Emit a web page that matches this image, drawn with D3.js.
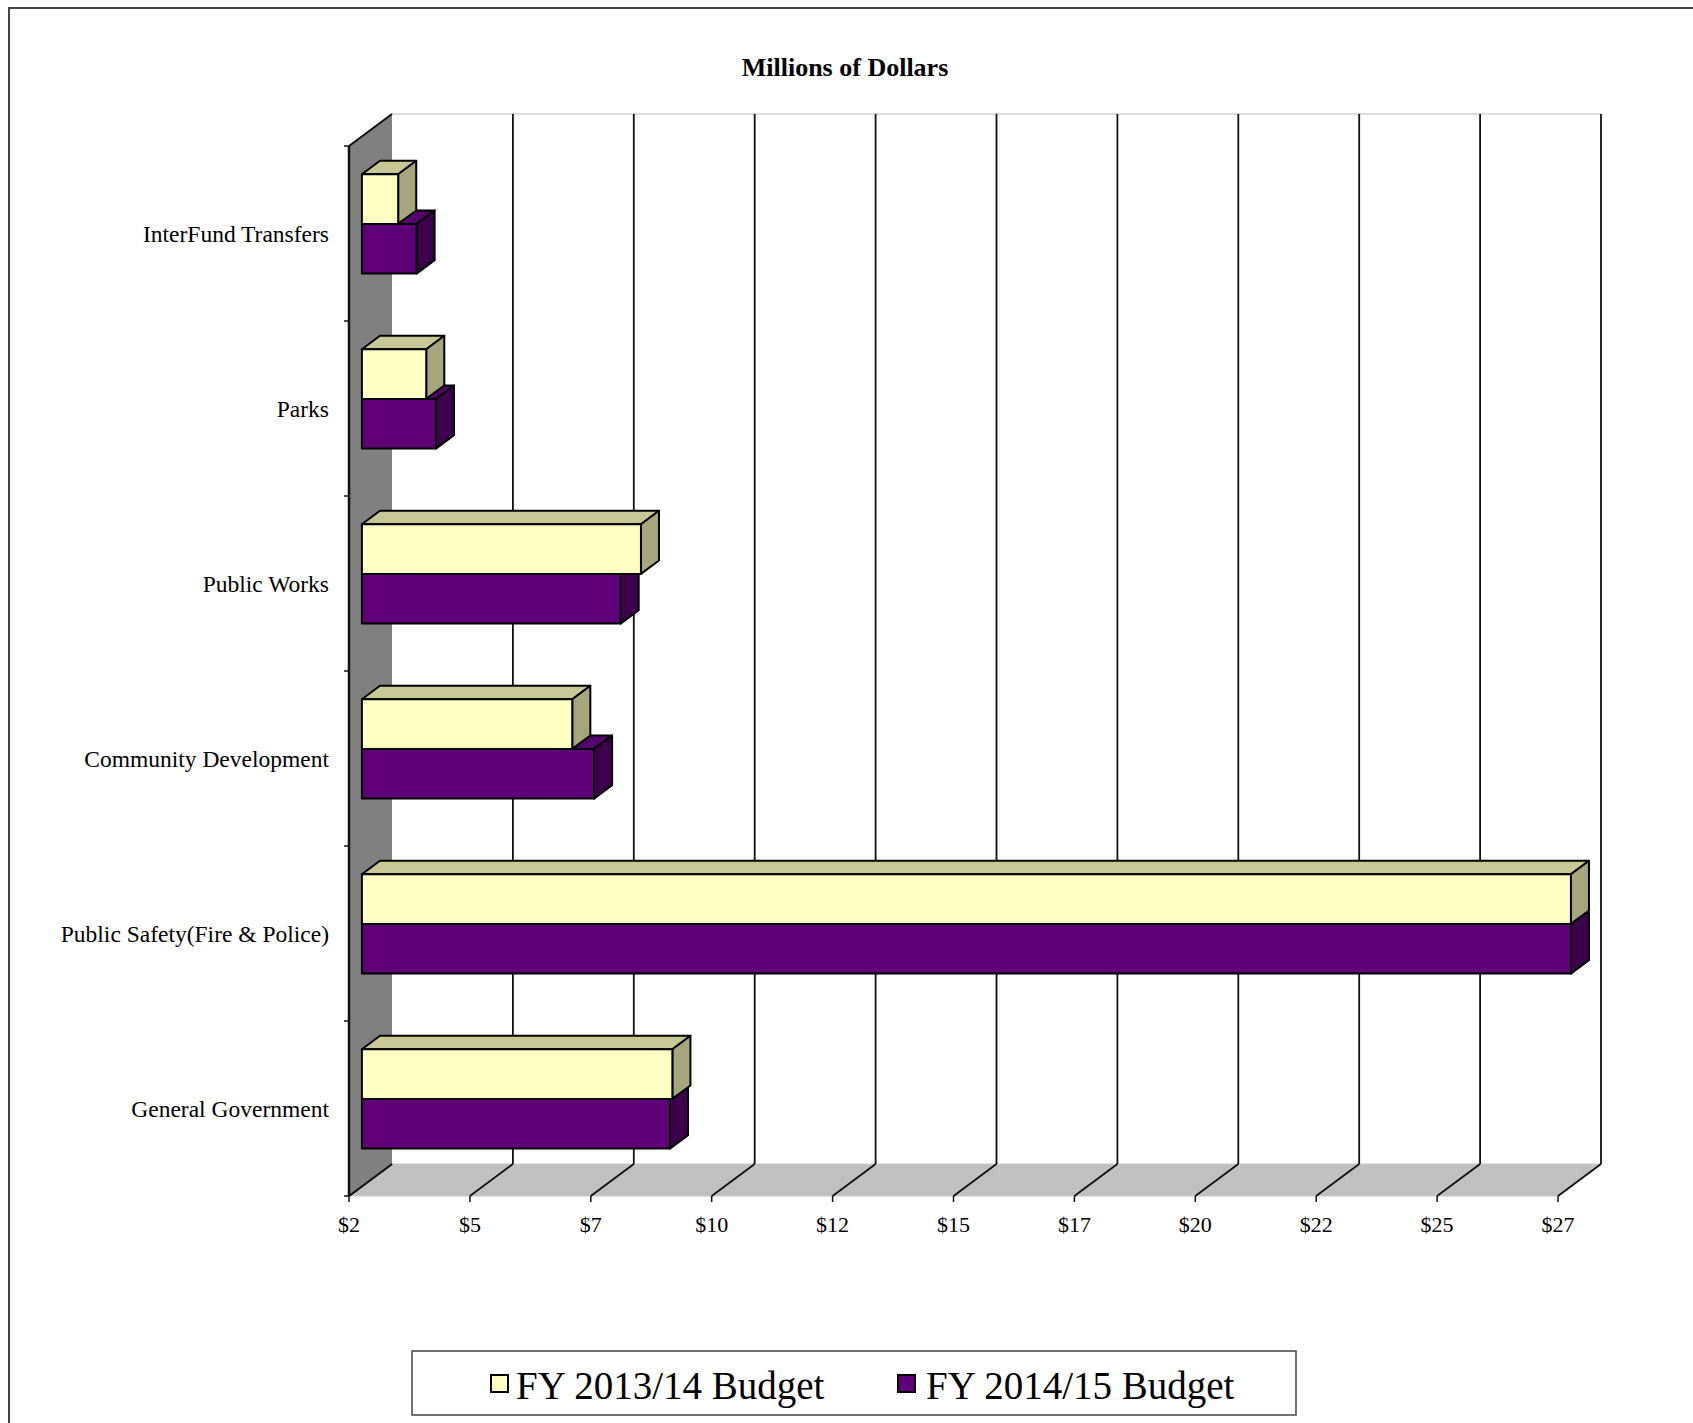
<!DOCTYPE html>
<html>
<head>
<meta charset="utf-8">
<script src="https://cdn.jsdelivr.net/npm/d3@7"></script>
<style>
  html, body { margin: 0; padding: 0; background: #fff; }
  svg { display: block; }
  text { font-family: "Liberation Serif", "Times New Roman", serif; fill: #000; }
</style>
</head>
<body>
<svg id="chart" width="1693" height="1423"></svg>
<script>
// ---- data ----
const categories = ["General Government", "Public Safety(Fire & Police)", "Community Development", "Public Works", "Parks", "InterFund Transfers"];
const fy1314 = [8.92, 27.5, 6.85, 8.27, 3.83, 3.25];
const fy1415 = [8.87, 27.5, 7.30, 7.85, 4.03, 3.63];
const seriesNames = ["FY 2013/14 Budget", "FY 2014/15 Budget"];
const tickValues = [2.5, 5, 7.5, 10, 12.5, 15, 17.5, 20, 22.5, 25, 27.5];
const tickLabels = ["$2", "$5", "$7", "$10", "$12", "$15", "$17", "$20", "$22", "$25", "$27"];
const title = "Millions of Dollars";

// ---- styles ----
const colors = {
  s0: { front: "#ffffc4", top: "#c8c897", side: "#a6a67c" },
  s1: { front: "#5f0078", top: "#560070", side: "#3c004c" }
};

const svg = d3.select("#chart");

// outer border
svg.append("rect").attr("x", 9).attr("y", 8).attr("width", 1720).attr("height", 1450)
  .attr("fill", "none").attr("stroke", "#444").attr("stroke-width", 2);

// geometry
const DX = 43, DY = 32;           // depth offset
const Z0 = 0.3, Z1 = 0.72;        // bar depth range
const x = d3.scaleLinear().domain([2.5, 27.5]).range([349, 1558]);
const y = d3.scaleBand().domain(categories.slice().reverse()).range([146, 1196]).paddingInner(0).paddingOuter(0);
const ySub = d3.scaleBand().domain(seriesNames).range([0, y.bandwidth()]).paddingInner(0).paddingOuter(0.76);

const x0 = x.range()[0], x1 = x.range()[1];
const yTop = y.range()[0], yBot = y.range()[1];

const g = svg.append("g");

// back wall top edge
g.append("line").attr("x1", x0 + DX).attr("y1", yTop - DY).attr("x2", x1 + DX).attr("y2", yTop - DY)
  .attr("stroke", "#cfcfcf").attr("stroke-width", 1.5);

// floor
g.append("polygon")
  .attr("points", [[x0, yBot], [x1, yBot], [x1 + DX, yBot - DY], [x0 + DX, yBot - DY]].map(p => p.join(",")).join(" "))
  .attr("fill", "#c0c0c0").attr("stroke", "#c8c8c8").attr("stroke-width", 1);

// back wall gridlines + floor lines
tickValues.forEach((t, i) => {
  const xv = x(t);
  if (i > 0) {
    g.append("line").attr("x1", xv + DX).attr("y1", yTop - DY).attr("x2", xv + DX).attr("y2", yBot - DY)
      .attr("stroke", "#111").attr("stroke-width", 1.8);
  }
  g.append("line").attr("x1", xv).attr("y1", yBot).attr("x2", xv + DX).attr("y2", yBot - DY)
    .attr("stroke", "#111").attr("stroke-width", 1.8);
  // tick below
  g.append("line").attr("x1", xv).attr("y1", yBot).attr("x2", xv).attr("y2", yBot + 6)
    .attr("stroke", "#111").attr("stroke-width", 1.5);
});

// left wall
g.append("polygon")
  .attr("points", [[x0, yTop], [x0 + DX, yTop - DY], [x0 + DX, yBot - DY], [x0, yBot]].map(p => p.join(",")).join(" "))
  .attr("fill", "#808080").attr("stroke", "none");
g.append("line").attr("x1", x0).attr("y1", yTop).attr("x2", x0 + DX).attr("y2", yTop - DY)
  .attr("stroke", "#111").attr("stroke-width", 2);
g.append("line").attr("x1", x0).attr("y1", yBot).attr("x2", x0 + DX).attr("y2", yBot - DY)
  .attr("stroke", "#111").attr("stroke-width", 1.8);
g.append("line").attr("x1", x0).attr("y1", yTop).attr("x2", x0).attr("y2", yBot)
  .attr("stroke", "#111").attr("stroke-width", 2.5);

// category ticks
const bounds = y.domain().map(c => y(c)).concat([yBot]);
bounds.forEach(b => {
  g.append("line").attr("x1", x0 - 5).attr("y1", b).attr("x2", x0).attr("y2", b)
    .attr("stroke", "#111").attr("stroke-width", 1.5);
});

// bars
function drawBar(v, yb, h, col) {
  const bx0 = x(2.5), bx1 = x(v);
  const fx = Z0 * DX, fy = -Z0 * DY, kx = Z1 * DX, ky = -Z1 * DY;
  const pts = a => a.map(p => p.join(",")).join(" ");
  const bg = g.append("g").attr("stroke", "#000").attr("stroke-width", 2).attr("stroke-linejoin", "round");
  bg.append("polygon").attr("fill", col.top)
    .attr("points", pts([[bx0 + fx, yb + fy], [bx0 + kx, yb + ky], [bx1 + kx, yb + ky], [bx1 + fx, yb + fy]]));
  bg.append("polygon").attr("fill", col.side)
    .attr("points", pts([[bx1 + fx, yb + fy], [bx1 + kx, yb + ky], [bx1 + kx, yb + h + ky], [bx1 + fx, yb + h + fy]]));
  bg.append("rect").attr("fill", col.front)
    .attr("x", bx0 + fx).attr("y", yb + fy).attr("width", bx1 - bx0).attr("height", h);
}

const order = categories.map((c, i) => i).reverse(); // top category first
order.forEach(i => {
  const c = categories[i];
  const band = y(c);
  // purple (second series) first, then yellow on top
  drawBar(fy1415[i], band + ySub(seriesNames[1]), ySub.bandwidth(), colors.s1);
  drawBar(fy1314[i], band + ySub(seriesNames[0]), ySub.bandwidth(), colors.s0);
});

// category labels
categories.forEach(c => {
  svg.append("text").attr("x", 329).attr("y", y(c) + y.bandwidth() / 2)
    .attr("text-anchor", "end").attr("dominant-baseline", "central")
    .style("font-size", "23.5px").text(c);
});

// tick labels
tickValues.forEach((t, i) => {
  svg.append("text").attr("x", x(t)).attr("y", 1224)
    .attr("text-anchor", "middle").attr("dominant-baseline", "central")
    .style("font-size", "22px").text(tickLabels[i]);
});

// title
svg.append("text").attr("x", 845).attr("y", 67).attr("text-anchor", "middle")
  .attr("dominant-baseline", "central").style("font-size", "26px").style("font-weight", "bold").text(title);

// legend
svg.append("rect").attr("x", 412).attr("y", 1351).attr("width", 884).attr("height", 64)
  .attr("fill", "#fff").attr("stroke", "#444").attr("stroke-width", 1.5);
const legendItems = [
  { sx: 491, tx: 516, col: colors.s0.front, name: seriesNames[0] },
  { sx: 898, tx: 926, col: colors.s1.front, name: seriesNames[1] }
];
legendItems.forEach(d => {
  svg.append("rect").attr("x", d.sx).attr("y", 1375).attr("width", 17).attr("height", 17)
    .attr("fill", d.col).attr("stroke", "#000").attr("stroke-width", 2);
  svg.append("text").attr("x", d.tx).attr("y", 1385).attr("dominant-baseline", "central")
    .style("font-size", "39px").text(d.name);
});
</script>
</body>
</html>
